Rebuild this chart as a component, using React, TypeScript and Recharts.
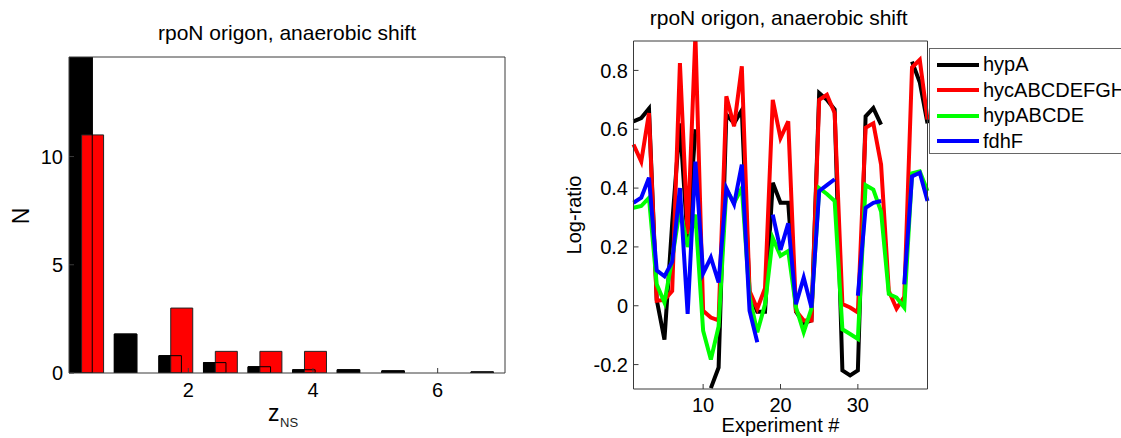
import { Bar, ComposedChart, Legend, Line, LineChart, XAxis, YAxis } from "recharts";

// histogram, left panel
const zBlack = [0.28, 0.995, 1.71, 2.425, 3.14, 3.855, 4.57, 5.285, 6.0, 6.715];
const nBlack = [17, 1.8, 0.8, 0.48, 0.29, 0.15, 0.15, 0.1, 0, 0.05];
const zRed = [0.47, 1.185, 1.9, 2.615, 3.33, 4.045, 4.76, 5.475, 6.19, 6.905];
const nRed = [11, 0, 3, 1, 1, 1, 0, 0, 0, 0];

// log-ratio profiles, right panel
const seriesNames = ["hypA", "hycABCDEFGH", "hypABCDE", "fdhF"];
const experiments = [
  1, 2, 3, 4, 5, 6, 7, 8, 9, 10, 11, 12, 13, 14, 15, 16, 17, 18, 19, 20,
  21, 22, 23, 24, 25, 26, 27, 28, 29, 30, 31, 32, 33, 34, 35, 36, 37, 38, 39,
];
const hypA = [
  0.627, 0.638, 0.67, 0.02, -0.115, 0.28, 0.62, 0.22, 0.6, null, -0.28, -0.21, 0.65,
  0.62, 0.665, 0.04, -0.02, -0.02, 0.418, 0.35, 0.35, -0.02, -0.06, -0.05, 0.723, 0.7,
  0.667, -0.22, -0.237, -0.22, 0.644, 0.672, 0.616, null, null, null, 0.83, 0.76, 0.62,
];
const hycABCDEFGH = [
  0.548, 0.49, 0.655, 0.017, 0.02, 0.05, 0.825, 0.243, 0.92, -0.017, -0.04, -0.05, 0.712,
  0.61, 0.814, 0.05, -0.01, 0.06, 0.7, 0.57, 0.627, -0.017, -0.05, -0.05, 0.7, 0.717,
  0.655, 0.006, -0.006, -0.023, 0.605, 0.62, 0.48, 0.05, -0.01, 0.03, 0.81, 0.836, 0.633,
];
const hypABCDE = [
  0.333, 0.339, 0.367, 0.073, 0.011, 0.16, 0.33, 0.2, 0.31, -0.085, -0.183, -0.07, 0.395,
  0.35, 0.4, 0.03, -0.09, 0.005, 0.23, 0.17, 0.186, -0.005, -0.09, -0.01, 0.4, 0.38,
  0.356, -0.08, -0.096, -0.113, 0.41, 0.395, 0.32, 0.04, 0.028, -0.006, 0.45, 0.457, 0.39,
];
const fdhF = [
  0.35, 0.367, 0.435, 0.12, 0.1, 0.15, 0.4, -0.028, 0.49, 0.11, 0.164, 0.079, 0.4,
  0.345, 0.48, -0.017, -0.124, null, 0.31, 0.19, 0.28, 0.005, 0.096, -0.006, 0.39, 0.41,
  0.43, null, null, 0.034, 0.333, 0.35, 0.356, null, null, 0.073, 0.44, 0.452, 0.356,
];

const histData = zBlack.map((z, i) => ({ zb: z, nb: nBlack[i], zr: zRed[i], nr: nRed[i] }));
const lineData = experiments.map((e, i) => ({
  exp: e,
  hypA: hypA[i],
  hycABCDEFGH: hycABCDEFGH[i],
  hypABCDE: hypABCDE[i],
  fdhF: fdhF[i],
}));

const AXIS = "#3a3a3a";
const tickStyle = { fill: "#000", fontSize: 20 };

const renderLegend = (props: any) => {
  const items = [...props.payload].sort(
    (a: any, b: any) => seriesNames.indexOf(a.value) - seriesNames.indexOf(b.value)
  );
  return (
    <div
      style={{
        border: "1px solid #666",
        background: "#fff",
        boxSizing: "border-box",
        width: 240,
        height: 106,
        padding: "3px 0 0 7px",
      }}
    >
      {items.map((p: any) => (
        <div key={p.value} style={{ display: "flex", alignItems: "center", height: 25.5, fontSize: 20, color: "#000" }}>
          <span style={{ display: "inline-block", width: 42, height: 4, background: p.color, marginRight: 4 }} />
          <span>{p.value}</span>
        </div>
      ))}
    </div>
  );
};

const App = () => {
  return (
    <div
      style={{
        position: "fixed",
        left: 0,
        top: 0,
        width: 1121,
        height: 438,
        overflow: "hidden",
        background: "#fff",
        fontFamily: "'Liberation Sans', Arial, sans-serif",
      }}
    >
      <div style={{ position: "absolute", left: 0, top: 0 }}>
        <ComposedChart
          width={560}
          height={438}
          data={histData}
          margin={{ top: 56, right: 54, bottom: 64, left: 68 }}
        >
          <XAxis
            xAxisId="b"
            dataKey="zb"
            type="number"
            domain={[0.087, 7.08]}
            allowDataOverflow
            ticks={[2, 4, 6]}
            height={1}
            tickSize={-5}
            tickMargin={15}
            tick={tickStyle}
            stroke={AXIS}
          />
          <XAxis xAxisId="r" dataKey="zr" type="number" domain={[0.087, 7.08]} allowDataOverflow hide />
          <XAxis xAxisId="o" dataKey="zb" type="number" domain={[0.087, 7.08]} allowDataOverflow hide />
          <XAxis
            xAxisId="top"
            orientation="top"
            dataKey="zb"
            type="number"
            domain={[0.087, 7.08]}
            allowDataOverflow
            ticks={[2, 4, 6]}
            height={1}
            tickSize={-5}
            tick={false}
            stroke={AXIS}
          />
          <YAxis
            domain={[0, 14.6]}
            allowDataOverflow
            ticks={[0, 5, 10]}
            width={1}
            tickSize={-5}
            tickMargin={11}
            tick={tickStyle}
            stroke={AXIS}
          />
          <YAxis
            yAxisId="right"
            orientation="right"
            domain={[0, 14.6]}
            ticks={[0, 5, 10]}
            width={1}
            tickSize={-5}
            tick={false}
            stroke={AXIS}
          />
          <Bar xAxisId="b" dataKey="nb" fill="#000" stroke="#000" strokeWidth={1} barSize={22.5} isAnimationActive={false} />
          <Bar xAxisId="r" dataKey="nr" fill="#ff0000" stroke="#222" strokeWidth={1} barSize={22} isAnimationActive={false} />
          <Bar xAxisId="o" dataKey="nb" fill="none" stroke="#000" strokeWidth={1} barSize={22.5} isAnimationActive={false} />
          <text x={287} y={39.5} textAnchor="middle" fontSize={21} fill="#000">
            rpoN origon, anaerobic shift
          </text>
          <text transform="translate(29,216) rotate(-90)" textAnchor="middle" fontSize={23} fill="#000">
            N
          </text>
          <text x={268} y={420.5} fontSize={23} fill="#000">
            z
          </text>
          <text x={280} y={426.5} fontSize={13} fill="#222">
            NS
          </text>
        </ComposedChart>
      </div>

      <div style={{ position: "absolute", left: 540, top: 0 }}>
        <LineChart
          width={581}
          height={438}
          data={lineData}
          margin={{ top: 40, right: 192.5, bottom: 48, left: 92.5 }}
        >
          <XAxis
            dataKey="exp"
            type="number"
            domain={[1, 39]}
            ticks={[10, 20, 30]}
            height={1}
            tickSize={-5}
            tickMargin={14}
            tick={tickStyle}
            stroke={AXIS}
          />
          <XAxis
            xAxisId="top"
            orientation="top"
            dataKey="exp"
            type="number"
            domain={[1, 39]}
            ticks={[10, 20, 30]}
            height={1}
            tickSize={-5}
            tick={false}
            stroke={AXIS}
          />
          <YAxis
            domain={[-0.283, 0.9]}
            allowDataOverflow
            ticks={[-0.2, 0, 0.2, 0.4, 0.6, 0.8]}
            tickFormatter={(v: number) => String(v)}
            width={1}
            tickSize={-5}
            tickMargin={10.5}
            tick={tickStyle}
            stroke={AXIS}
          />
          <YAxis
            yAxisId="right"
            orientation="right"
            domain={[-0.283, 0.9]}
            ticks={[-0.2, 0, 0.2, 0.4, 0.6, 0.8]}
            width={1}
            tickSize={-5}
            tick={false}
            stroke={AXIS}
          />
          <Line dataKey="hypA" name="hypA" stroke="#000000" strokeWidth={4} dot={false} isAnimationActive={false} />
          <Line dataKey="hycABCDEFGH" name="hycABCDEFGH" stroke="#ff0000" strokeWidth={4} dot={false} isAnimationActive={false} />
          <Line dataKey="hypABCDE" name="hypABCDE" stroke="#00ff00" strokeWidth={4} dot={false} isAnimationActive={false} />
          <Line dataKey="fdhF" name="fdhF" stroke="#0000ff" strokeWidth={4} dot={false} isAnimationActive={false} />
          <Legend
            layout="vertical"
            align="center"
            verticalAlign="middle"
            wrapperStyle={{ left: 389, top: 48, width: 240 }}
            content={renderLegend}
          />
          <text x={238.7} y={25} textAnchor="middle" fontSize={21} fill="#000">
            rpoN origon, anaerobic shift
          </text>
          <text transform="translate(41,215) rotate(-90)" textAnchor="middle" fontSize={20} fill="#000">
            Log-ratio
          </text>
          <text x={240.5} y={432} textAnchor="middle" fontSize={20} fill="#000">
            Experiment #
          </text>
        </LineChart>
      </div>
    </div>
  );
};

export default App;
